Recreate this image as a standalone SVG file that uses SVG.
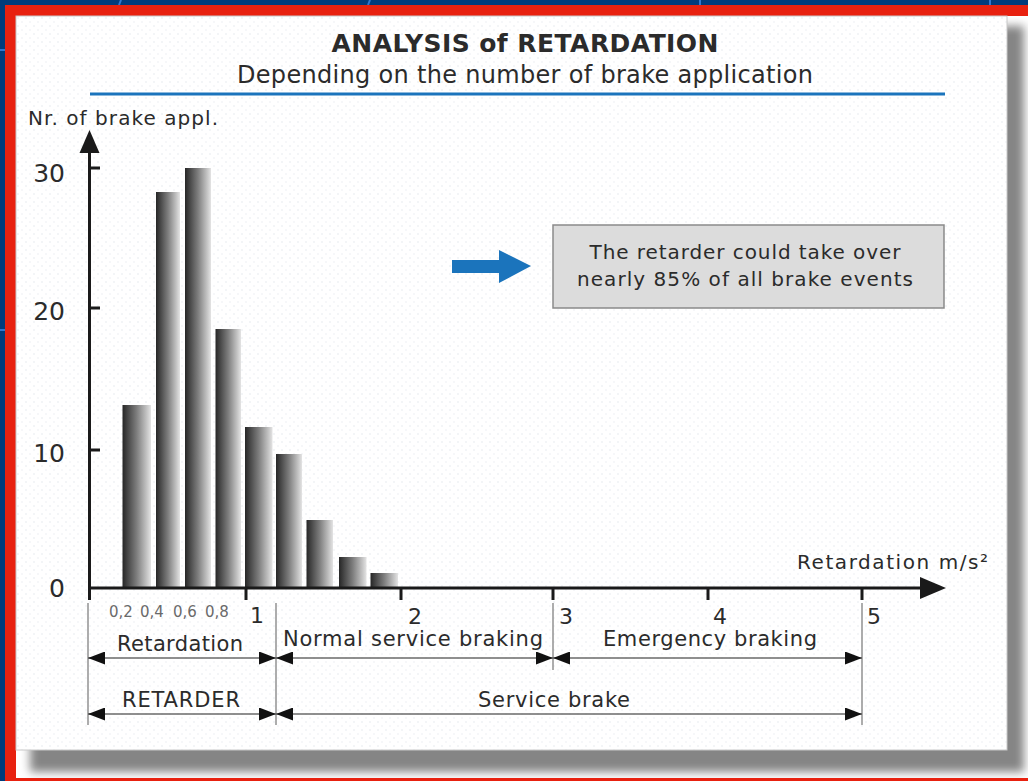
<svg xmlns="http://www.w3.org/2000/svg" width="1028" height="781" viewBox="0 0 1028 781">
<defs>
<style>
.t{font-family:"DejaVu Sans","Liberation Sans",sans-serif;fill:#2b2b2b}
.tk{stroke:#1a1a1a;stroke-width:3;fill:none}
.dim{stroke:#6a6a6a;stroke-width:1.6;fill:none}
.ext{stroke:#8a8a8a;stroke-width:1.4;fill:none}
.bar{fill:url(#barg)}
.sm{fill:#6a6a6a}
</style>
<linearGradient id="barg" x1="0" y1="0" x2="1" y2="0">
<stop offset="0" stop-color="#262626"/>
<stop offset="0.1" stop-color="#383838"/>
<stop offset="0.5" stop-color="#7e7e7e"/>
<stop offset="0.85" stop-color="#c4c4c4"/>
<stop offset="1" stop-color="#e4e4e4"/>
</linearGradient>
<pattern id="dots" width="8" height="8" patternUnits="userSpaceOnUse">
<rect width="8" height="8" fill="#ffffff"/>
<circle cx="2" cy="2" r="0.7" fill="#dfe4ea"/>
<circle cx="6" cy="6" r="0.7" fill="#e8ebef"/>
</pattern>
<filter id="blur" x="-5%" y="-5%" width="110%" height="110%">
<feGaussianBlur stdDeviation="5"/>
</filter>
<clipPath id="inner"><rect x="16" y="16" width="1012" height="762"/></clipPath>
<marker id="ah" viewBox="0 0 17 13" refX="17" refY="6.5" markerWidth="17" markerHeight="13" markerUnits="userSpaceOnUse" orient="auto-start-reverse">
<path d="M0,0 L17,6.5 L0,13 z" fill="#111"/>
</marker>
</defs>

<!-- background frame -->
<rect x="0" y="0" width="1028" height="781" fill="#003c7c"/>
<g stroke="#2f78d0" stroke-width="2">
<line x1="121" y1="0" x2="119" y2="5"/>
<line x1="370" y1="0" x2="368" y2="5"/>
<line x1="700" y1="0" x2="700" y2="5"/>
<line x1="990" y1="0" x2="990" y2="5"/>
<line x1="0" y1="50" x2="5" y2="50"/>
<line x1="0" y1="330" x2="5" y2="330"/>
</g>
<rect x="5" y="5" width="1030" height="780" fill="#e8210f"/>
<rect x="16" y="16" width="1012" height="762" fill="#ffffff"/>
<g clip-path="url(#inner)">
<rect x="30" y="26" width="994" height="746" fill="#858585" filter="url(#blur)"/>
</g>
<rect x="16" y="16" width="991" height="734" fill="url(#dots)" stroke="#c8c8c8" stroke-width="1"/>

<!-- title -->
<g id="title">
<text class="t" x="525" y="52" font-size="25" font-weight="bold" text-anchor="middle" fill="#1e1e1e" textLength="387">ANALYSIS of RETARDATION</text>
<text class="t" x="525" y="83" font-size="24" text-anchor="middle" textLength="576">Depending on the number of brake application</text>
<line x1="90" y1="94" x2="945" y2="94" stroke="#1b74bc" stroke-width="3"/>
</g>

<!-- y axis -->
<g id="y-axis">
<line class="tk" x1="89.5" y1="150" x2="89.5" y2="600"/>
<polygon points="89.5,130 79.5,153 99.5,153" fill="#1a1a1a"/>
<line class="tk" x1="89.5" y1="168" x2="100" y2="168"/>
<line class="tk" x1="89.5" y1="308" x2="100" y2="308"/>
<line class="tk" x1="89.5" y1="450" x2="100" y2="450"/>
<text class="t" x="28" y="125" font-size="20" textLength="190">Nr. of brake appl.</text>
<text class="t" x="65" y="182" font-size="25" text-anchor="end">30</text>
<text class="t" x="65" y="320" font-size="25" text-anchor="end">20</text>
<text class="t" x="65" y="462" font-size="25" text-anchor="end">10</text>
<text class="t" x="65" y="597" font-size="25" text-anchor="end">0</text>
</g>

<!-- bars -->
<g id="bars">
<rect class="bar" x="122.5" y="405" width="28.5" height="182"/>
<rect class="bar" x="156" y="192" width="24" height="395"/>
<rect class="bar" x="185" y="168" width="26" height="419"/>
<rect class="bar" x="215.5" y="329" width="25.5" height="258"/>
<rect class="bar" x="245" y="427" width="27.5" height="160"/>
<rect class="bar" x="276" y="454" width="26" height="133"/>
<rect class="bar" x="306.5" y="520" width="26.5" height="67"/>
<rect class="bar" x="339" y="557" width="27.5" height="30"/>
<rect class="bar" x="370.5" y="573" width="27.5" height="14"/>
</g>

<!-- x axis -->
<g id="x-axis">
<line class="tk" x1="88" y1="588" x2="925" y2="588"/>
<polygon points="946,588 920,577 920,599" fill="#1a1a1a"/>
<line class="tk" x1="246" y1="588" x2="246" y2="600"/>
<line class="tk" x1="401" y1="588" x2="401" y2="600"/>
<line class="tk" x1="553" y1="588" x2="553" y2="600"/>
<line class="tk" x1="708" y1="588" x2="708" y2="600"/>
<line class="tk" x1="862" y1="588" x2="862" y2="600"/>
<text class="t" x="988" y="569" font-size="20" text-anchor="end" textLength="191">Retardation m/s²</text>
<text class="t sm" x="109" y="617" font-size="15">0,2</text>
<text class="t sm" x="140" y="617" font-size="15">0,4</text>
<text class="t sm" x="173" y="617" font-size="15">0,6</text>
<text class="t sm" x="205" y="617" font-size="15">0,8</text>
<text class="t" x="257" y="623" font-size="22" text-anchor="middle">1</text>
<text class="t" x="415" y="624" font-size="22" text-anchor="middle">2</text>
<text class="t" x="566" y="624" font-size="22" text-anchor="middle">3</text>
<text class="t" x="720" y="624" font-size="22" text-anchor="middle">4</text>
<text class="t" x="874" y="624" font-size="22" text-anchor="middle">5</text>
</g>

<!-- callout -->
<g id="callout">
<rect x="553" y="225" width="391" height="83" fill="#dcdcdc" stroke="#8a8a8a" stroke-width="1.5"/>
<text class="t" x="745" y="259" font-size="20" text-anchor="middle" textLength="311">The retarder could take over</text>
<text class="t" x="745" y="286" font-size="20" text-anchor="middle" textLength="336">nearly 85% of all brake events</text>
</g>

<!-- range labels -->
<g id="range-retardation"><text class="t" x="180" y="651" font-size="21" text-anchor="middle" textLength="126">Retardation</text></g>
<g id="range-normal"><text class="t" x="413" y="646" font-size="21" text-anchor="middle" textLength="260">Normal service braking</text></g>
<g id="range-emergency"><text class="t" x="710" y="646" font-size="21" text-anchor="middle" textLength="214">Emergency braking</text></g>
<g id="range-retarder"><text class="t" x="181" y="707" font-size="21" text-anchor="middle" textLength="118">RETARDER</text></g>
<g id="range-service"><text class="t" x="554" y="707" font-size="21" text-anchor="middle" textLength="152">Service brake</text></g>

<!-- connectors -->
<g id="connectors">
<line class="ext" x1="88" y1="603" x2="88" y2="725"/>
<line class="ext" x1="276" y1="603" x2="276" y2="725"/>
<line class="ext" x1="553" y1="603" x2="553" y2="670"/>
<line class="ext" x1="862" y1="603" x2="862" y2="725"/>
<line class="dim" x1="88" y1="658" x2="276" y2="658" marker-start="url(#ah)" marker-end="url(#ah)"/>
<line class="dim" x1="276" y1="658" x2="553" y2="658" marker-start="url(#ah)" marker-end="url(#ah)"/>
<line class="dim" x1="553" y1="658" x2="862" y2="658" marker-start="url(#ah)" marker-end="url(#ah)"/>
<line class="dim" x1="88" y1="714" x2="276" y2="714" marker-start="url(#ah)" marker-end="url(#ah)"/>
<line class="dim" x1="276" y1="714" x2="862" y2="714" marker-start="url(#ah)" marker-end="url(#ah)"/>
<polygon id="blue-arrow" points="452,260 499,260 499,250 531,266 499,283 499,273 452,273" fill="#1b74bc"/>
</g>
</svg>
